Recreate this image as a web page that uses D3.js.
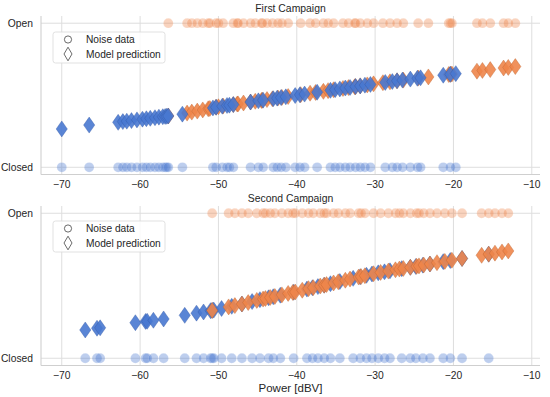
<!DOCTYPE html>
<html>
<head>
<meta charset="utf-8">
<script src="https://cdn.jsdelivr.net/npm/d3@7"></script>
<style>
  html, body { margin: 0; padding: 0; background: #fff; }
  svg { display: block; }
  text { font-family: "Liberation Sans", Arial, sans-serif; fill: #262626; }
</style>
</head>
<body>
<svg id="chart" width="550" height="397"></svg>
<script>
// ---------- DATA ----------
// [power dBV, model prediction] pairs; circles drawn at Open/Closed, diamonds at prediction
const xTicks = [-70, -60, -50, -40, -30, -20, -10];
const yTickLabels = ["Closed", "Open"];
const panelTitles = ["First Campaign", "Second Campaign"];
const legendLabels = ["Noise data", "Model prediction"];
const xLabel = "Power [dBV]";

const firstOpen = [
  [-56.4,.356],[-54.0,.376],[-53.4,.383],[-52.7,.39],[-52.0,.398],[-51.3,.406],[-51.1,.408],
  [-50.3,.417],[-50.0,.42],[-49.4,.425],[-48.1,.435],[-47.6,.439],[-47.5,.44],[-46.8,.446],
  [-45.9,.453],[-45.3,.458],[-44.5,.464],[-44.4,.465],[-43.8,.47],[-43.1,.475],[-42.4,.481],
  [-41.9,.485],[-41.1,.491],[-39.5,.504],[-38.3,.514],[-37.6,.519],[-36.6,.527],[-36.0,.532],
  [-35.3,.538],[-34.1,.547],[-33.4,.553],[-32.6,.559],[-32.5,.56],[-31.9,.565],[-31.0,.572],
  [-30.2,.579],[-29.0,.587],[-28.1,.593],[-27.2,.60],[-26.4,.605],[-24.5,.619],[-23.2,.627],
  [-20.6,.644],[-20.4,.645],[-20.2,.647],[-17.0,.667],[-16.3,.672],[-15.3,.678],[-13.6,.689],
  [-13.0,.693],[-12.1,.699]
];
const firstClosed = [
  [-70.0,.266],[-66.5,.293],[-62.8,.312],[-62.2,.317],[-61.7,.32],[-61.1,.324],[-60.4,.329],
  [-59.7,.334],[-59.2,.337],[-58.7,.34],[-58.1,.344],[-57.6,.348],[-57.1,.351],[-56.8,.353],
  [-56.6,.354],[-56.4,.356],[-54.6,.369],[-50.7,.412],[-50.3,.417],[-49.5,.424],[-48.9,.429],
  [-48.6,.431],[-48.1,.435],[-45.9,.453],[-44.9,.461],[-44.3,.466],[-43.0,.476],[-42.5,.48],
  [-42.0,.484],[-41.4,.489],[-40.2,.498],[-39.6,.503],[-39.0,.508],[-37.4,.521],[-35.7,.534],
  [-35.1,.539],[-34.5,.544],[-33.8,.55],[-33.2,.554],[-32.5,.56],[-31.9,.565],[-31.3,.57],
  [-30.6,.575],[-28.7,.589],[-27.8,.595],[-27.2,.60],[-26.5,.605],[-25.5,.612],[-24.6,.618],
  [-24.2,.621],[-21.3,.639],[-20.4,.645],[-19.7,.65]
];
const secondOpen = [
  [-50.8,.33],[-48.7,.354],[-47.9,.363],[-47.0,.374],[-46.2,.384],[-45.1,.399],[-44.3,.408],
  [-44.0,.412],[-43.4,.419],[-42.8,.426],[-41.9,.437],[-41.1,.447],[-40.5,.454],[-40.2,.457],
  [-39.3,.469],[-38.5,.48],[-37.9,.487],[-37.0,.498],[-36.5,.504],[-36.2,.508],[-35.3,.519],
  [-34.7,.527],[-33.8,.538],[-33.2,.546],[-32.1,.56],[-31.8,.563],[-31.3,.569],[-30.2,.583],
  [-29.3,.592],[-28.3,.601],[-27.4,.61],[-26.9,.615],[-26.4,.619],[-25.5,.627],[-24.7,.634],
  [-24.4,.637],[-23.8,.643],[-23.0,.65],[-22.1,.659],[-21.1,.668],[-20.2,.676],[-18.9,.688],
  [-16.4,.71],[-15.5,.718],[-14.7,.725],[-13.8,.733],[-13.0,.74]
];
const secondClosed = [
  [-67.0,.195],[-65.5,.207],[-65.1,.21],[-60.6,.245],[-59.3,.254],[-59.1,.255],[-58.3,.262],
  [-57.0,.271],[-54.3,.296],[-52.8,.311],[-51.9,.319],[-51.0,.328],[-50.8,.33],[-50.6,.332],
  [-49.6,.343],[-48.3,.358],[-47.0,.374],[-45.7,.391],[-44.7,.404],[-43.6,.417],[-43.0,.424],
  [-42.1,.435],[-40.4,.455],[-38.7,.477],[-38.0,.486],[-37.3,.494],[-36.5,.504],[-35.7,.514],
  [-34.5,.529],[-32.8,.551],[-31.9,.562],[-31.1,.572],[-30.4,.581],[-29.6,.589],[-28.8,.596],
  [-28.1,.603],[-26.6,.618],[-25.5,.627],[-24.8,.633],[-23.9,.642],[-23.0,.65],[-21.3,.666],
  [-20.4,.674],[-18.9,.688],[-15.5,.718]
];

// ---------- LAYOUT ----------
const BLUE = "#4878d0", ORANGE = "#ee854a";
const BLUE_EDGE = "#2f55a0", ORANGE_EDGE = "#b85e2a";
const svg = d3.select("#chart");
const left = 41, right = 540;
const x = d3.scaleLinear().domain([-72.65, -8.95]).range([left, right]);

const panels = [
  { top: 16, bottom: 174.5, open: firstOpen, closed: firstClosed, title: panelTitles[0], mix: true },
  { top: 206, bottom: 365.5, open: secondOpen, closed: secondClosed, title: panelTitles[1], mix: false }
];

function diamondPath(w, h) {
  return `M0,${-h}L${w},0L0,${h}L${-w},0Z`;
}

panels.forEach((p, pi) => {
  const y = d3.scaleLinear().domain([-0.05, 1.05]).range([p.bottom, p.top]);
  const g = svg.append("g");

  // grid
  g.selectAll(".vg").data(xTicks).join("line")
    .attr("x1", d => x(d)).attr("x2", d => x(d))
    .attr("y1", p.top).attr("y2", p.bottom)
    .attr("stroke", "#dedede").attr("stroke-width", 1);
  g.selectAll(".hg").data([0, 1]).join("line")
    .attr("x1", left).attr("x2", right)
    .attr("y1", d => y(d)).attr("y2", d => y(d))
    .attr("stroke", "#dedede").attr("stroke-width", 1);

  // spines (left, bottom)
  g.append("line").attr("x1", left).attr("x2", left).attr("y1", p.top).attr("y2", p.bottom)
    .attr("stroke", "#cfcfcf").attr("stroke-width", 1.1);
  g.append("line").attr("x1", left).attr("x2", right).attr("y1", p.bottom).attr("y2", p.bottom)
    .attr("stroke", "#cfcfcf").attr("stroke-width", 1.1);

  // tick labels
  g.selectAll(".xt").data(xTicks).join("text")
    .attr("x", d => x(d)).attr("y", p.bottom + 13.5)
    .attr("text-anchor", "middle").attr("font-size", 10.3)
    .text(d => d3.format("")(d).replace("-", "\u2212"));
  g.selectAll(".yt").data([0, 1]).join("text")
    .attr("x", left - 8).attr("y", d => y(d) + 3.6)
    .attr("text-anchor", "end").attr("font-size", 10.3)
    .text(d => yTickLabels[d]);

  // title
  g.append("text").attr("x", (left + right) / 2).attr("y", p.top - 4)
    .attr("text-anchor", "middle").attr("font-size", 10.4).text(p.title);

  // point order
  const closedPts = p.closed.map(d => ({ v: d[0], s: 0, pr: d[1] }));
  const openPts = p.open.map(d => ({ v: d[0], s: 1, pr: d[1] }));
  let pts = [];
  if (p.mix) {
    const n = Math.max(closedPts.length, openPts.length);
    for (let i = 0; i < n; i++) {
      if (i < openPts.length) pts.push(openPts[i]);
      if (i < closedPts.length) pts.push(closedPts[i]);
    }
  } else {
    pts = closedPts.concat(openPts);
  }

  // noise data circles
  g.selectAll(".pt").data(pts).join("circle")
    .attr("cx", d => x(d.v)).attr("cy", d => y(d.s)).attr("r", 4.9)
    .attr("fill", d => d.s ? ORANGE : BLUE).attr("fill-opacity", 0.36)
    .attr("stroke", "#fff").attr("stroke-opacity", 0.3).attr("stroke-width", 0.5);

  // model prediction diamonds
  g.selectAll(".dm").data(pts).join("path")
    .attr("d", diamondPath(5.6, 8))
    .attr("transform", d => `translate(${x(d.v)},${y(d.pr)})`)
    .attr("fill", d => d.s ? ORANGE : BLUE).attr("fill-opacity", 0.9)
    .attr("stroke", d => d.s ? ORANGE_EDGE : BLUE_EDGE).attr("stroke-opacity", 0.6)
    .attr("stroke-width", 0.6);

  // legend
  const lx = 53, ly = p.top + 16 - (pi ? 1 : 0);
  const lg = g.append("g").attr("transform", `translate(${lx},${ly})`);
  lg.append("rect").attr("x", 0).attr("y", 0).attr("width", 112).attr("height", 31)
    .attr("rx", 2.5).attr("fill", "#fff").attr("fill-opacity", 0.85)
    .attr("stroke", "#d9d9d9").attr("stroke-width", 0.8);
  lg.append("circle").attr("cx", 15).attr("cy", 7.5).attr("r", 3.6)
    .attr("fill", "#fff").attr("stroke", "#444").attr("stroke-width", 0.8);
  lg.append("path").attr("d", diamondPath(4, 6.8))
    .attr("transform", "translate(15,22)")
    .attr("fill", "#fff").attr("stroke", "#444").attr("stroke-width", 0.8);
  lg.append("text").attr("x", 33).attr("y", 11).attr("font-size", 10.2).text(legendLabels[0]);
  lg.append("text").attr("x", 33).attr("y", 25.5).attr("font-size", 10.2).text(legendLabels[1]);
});

// x axis label
svg.append("text").attr("x", (left + right) / 2).attr("y", 391.5)
  .attr("text-anchor", "middle").attr("font-size", 11.5).text(xLabel);
</script>
</body>
</html>
